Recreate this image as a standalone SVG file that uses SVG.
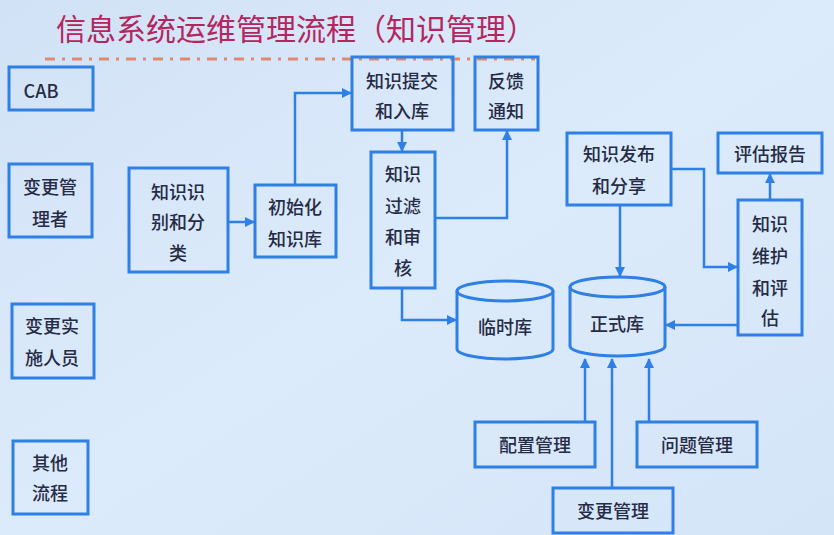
<svg xmlns="http://www.w3.org/2000/svg" width="834" height="535" viewBox="0 0 834 535">
<defs>
<linearGradient id="bg" x1="0" y1="0" x2="1" y2="1">
<stop offset="0" stop-color="#d2e2f6"/>
<stop offset="0.5" stop-color="#dcebfb"/>
<stop offset="1" stop-color="#d4e5f8"/>
</linearGradient>
<marker id="ah" viewBox="0 0 10 10" refX="9" refY="5" markerWidth="4" markerHeight="4" orient="auto-start-reverse" markerUnits="strokeWidth">
<path d="M0,0 L10,5 L0,10 z" fill="#2e7fe6"/>
</marker>
<style>
.box{fill:none;stroke:#2e7fe6;stroke-width:3}
.cyl{fill:none;stroke:#2e7fe6;stroke-width:3}
.t{font-family:"Noto Sans CJK SC","Noto Sans",sans-serif;font-size:18px;font-weight:500;fill:#262b45;text-anchor:middle;dominant-baseline:central}
.c{fill:none;stroke:#2e7fe6;stroke-width:2.5;marker-end:url(#ah)}
</style>
</defs>
<rect width="834" height="535" fill="url(#bg)"/>
<text x="296" y="27" font-family="Noto Sans CJK SC, sans-serif" font-size="30" fill="#b3265e" text-anchor="middle" dominant-baseline="central">信息系统运维管理流程（知识管理）</text>
<line x1="45" y1="59" x2="535" y2="59" stroke="#e0896f" stroke-width="3" stroke-dasharray="10 7 3 7"/>

<g id="cab"><rect class="box" x="9" y="67" width="84" height="43"/><text class="t" x="41" y="90">CAB</text></g>
<g id="bgglz"><rect class="box" x="9" y="164" width="83" height="73"/><text class="t" x="50" y="186">变更管</text><text class="t" x="50" y="218">理者</text></g>
<g id="bgssry"><rect class="box" x="12" y="304" width="82" height="74"/><text class="t" x="52" y="325">变更实</text><text class="t" x="52" y="357">施人员</text></g>
<g id="qtlc"><rect class="box" x="13" y="441" width="75" height="73"/><text class="t" x="50" y="462">其他</text><text class="t" x="50" y="492">流程</text></g>

<g id="zssb"><rect class="box" x="129" y="168" width="99" height="104"/><text class="t" x="178" y="191">知识识</text><text class="t" x="178" y="221">别和分</text><text class="t" x="178" y="252">类</text></g>
<g id="cshzsk"><rect class="box" x="255" y="185" width="81" height="72"/><text class="t" x="295" y="206">初始化</text><text class="t" x="295" y="238">知识库</text></g>
<g id="zstj"><rect class="box" x="352" y="57" width="101" height="73"/><text class="t" x="402" y="80">知识提交</text><text class="t" x="402" y="110">和入库</text></g>
<g id="fktz"><rect class="box" x="475" y="57" width="63" height="73"/><text class="t" x="506" y="80">反馈</text><text class="t" x="506" y="110">通知</text></g>
<g id="zsgl"><rect class="box" x="371" y="152" width="64" height="136"/><text class="t" x="403" y="173">知识</text><text class="t" x="403" y="205">过滤</text><text class="t" x="403" y="236">和审</text><text class="t" x="403" y="267">核</text></g>
<g id="lsk"><path class="cyl" d="M457,291 L457,349 A48,10 0 0 0 553,349 L553,291"/><ellipse class="cyl" cx="505" cy="291" rx="48" ry="10"/><text class="t" x="505" y="326">临时库</text></g>
<g id="zsk"><path class="cyl" d="M570,287 L570,346 A47.5,10 0 0 0 665,346 L665,287"/><ellipse class="cyl" cx="617.5" cy="287" rx="47.5" ry="10"/><text class="t" x="617" y="323">正式库</text></g>
<g id="zsfb"><rect class="box" x="567" y="133" width="104" height="72"/><text class="t" x="619" y="153">知识发布</text><text class="t" x="619" y="185">和分享</text></g>
<g id="pgbg"><rect class="box" x="718" y="133" width="104" height="40"/><text class="t" x="770" y="153">评估报告</text></g>
<g id="zswh"><rect class="box" x="738" y="200" width="64" height="135"/><text class="t" x="770" y="223">知识</text><text class="t" x="770" y="255">维护</text><text class="t" x="770" y="287">和评</text><text class="t" x="770" y="317">估</text></g>
<g id="pzgl"><rect class="box" x="475" y="422" width="120" height="45"/><text class="t" x="535" y="444">配置管理</text></g>
<g id="wtgl"><rect class="box" x="637" y="422" width="120" height="45"/><text class="t" x="697" y="444">问题管理</text></g>
<g id="bggl"><rect class="box" x="553" y="488" width="120" height="45"/><text class="t" x="613" y="510">变更管理</text></g>

<g id="connectors">
<path class="c" d="M228,222 L254,222"/>
<path class="c" d="M295,185 L295,93 L351,93"/>
<path class="c" d="M402,130 L402,151"/>
<path class="c" d="M435,218 L507,218 L507,131"/>
<path class="c" d="M402,288 L402,320 L456,320"/>
<path class="c" d="M620,205 L620,276"/>
<path class="c" d="M671,169 L704,169 L704,267 L737,267"/>
<path class="c" d="M770,200 L770,174"/>
<path class="c" d="M738,325 L666,325"/>
<path class="c" d="M585,422 L585,359"/>
<path class="c" d="M612,488 L612,359"/>
<path class="c" d="M649,422 L649,359"/>
</g>
</svg>
